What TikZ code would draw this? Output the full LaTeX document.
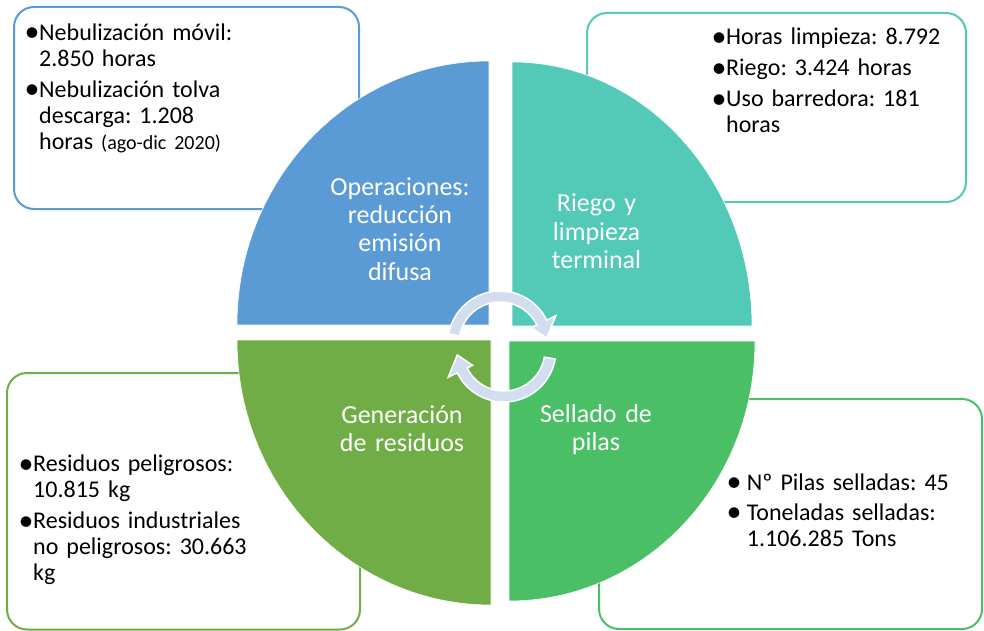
\documentclass[tikz,border=0pt]{standalone}
\usepackage{fontspec}
\setmainfont{Carlito}
\frenchspacing
\definecolor{qblue}{HTML}{5B9BD5}
\definecolor{qteal}{HTML}{53C9B7}
\definecolor{qgreenL}{HTML}{70AD47}
\definecolor{qgreenR}{HTML}{4ABF65}
\definecolor{arrowc}{HTML}{D2DDEF}
\newcommand\mybul{\raisebox{-1.3pt}{\scalebox{1.25}{\textbullet}}}
\newcommand\myitem[1][12pt]{\noindent\hangindent=#1\hangafter=1\makebox[#1][l]{\hspace{-2.5pt}\mybul}\ignorespaces}
\begin{document}
\begin{tikzpicture}[x=1pt,y=1pt,
  infobox/.style={rounded corners=20pt, line width=2pt, fill=white},
  quad/.style={draw=white, line width=0.6pt},
  qtext/.style={text=white, font=\frenchspacing\fontsize{26}{28.4}\selectfont, text width=220pt, align=center, anchor=base, inner sep=0pt},
  btext/.style={text=black, font=\frenchspacing\fontsize{24}{26}\selectfont, text width=300pt, align=left, anchor=base west, inner sep=0pt},
  cyc/.style={fill=arrowc, draw=white, line width=1.5pt, line join=miter}
]
\useasboundingbox (0,0) rectangle (984,-631);
\fill[white] (0,0) rectangle (984,-631);

% info boxes
\draw[infobox, draw=qblue]   (14,-7)   rectangle (359,-209);
\draw[infobox, draw=qteal]   (587,-13) rectangle (966,-202);
\draw[infobox, draw=qgreenL] (7,-373)  rectangle (360,-629.5);
\draw[infobox, draw=qgreenR] (599,-399) rectangle (982,-629);

% quadrants
\fill[qblue, quad] (489,-325) -- (237,-325) arc[start angle=180, end angle=90, x radius=252, y radius=264] -- cycle;
\fill[qteal, quad] (512,-326) -- (512,-62) arc[start angle=90, end angle=0, x radius=240, y radius=264] -- cycle;
\fill[qgreenL, quad] (491,-340) -- (237,-340) arc[start angle=180, end angle=270, x radius=254, y radius=265] -- cycle;
\fill[qgreenR, quad] (509,-341) -- (509,-601) arc[start angle=270, end angle=360, x radius=246, y radius=260] -- cycle;

% cycle arrows
\begin{scope}[shift={(500,-343)}]
\filldraw[cyc] (170:52) arc[start angle=170, end angle=26, radius=52] -- (26:62) -- (6:47) -- (26:35) -- (26:41) arc[start angle=26, end angle=170, radius=41] -- cycle;
\end{scope}
\begin{scope}[shift={(504,-350)}]
\filldraw[cyc] (-10:52) arc[start angle=-10, end angle=-154, radius=52] -- (-154:62) -- (-174:47) -- (-154:35) -- (-154:41) arc[start angle=-154, end angle=-10, radius=41] -- cycle;
\end{scope}

% quadrant labels
\node[qtext] (opl) at (400,-195) {Operaciones:\\reducción\\emisión\\difusa};
\node[qtext] (rgl) at (596.5,-211.7) {Riego y\\limpieza\\terminal};
\node[qtext] (gnl) at (402,-423) {Generación\\de residuos};
\node[qtext] (sll) at (596,-422) {Sellado de\\pilas};

% box texts
\node[btext] (opt) at (27,-40.7) {\setlength{\parskip}{5pt}%
\myitem Nebulización móvil:\newline 2.850 horas\par
\myitem Nebulización tolva\newline descarga: 1.208\newline horas {\fontsize{20}{26}\selectfont(ago-dic 2020)}\par};
\node[btext] (rgt) at (714,-45) {\setlength{\parskip}{5pt}%
\myitem Horas limpieza: 8.792\par
\myitem Riego: 3.424 horas\par
\myitem Uso barredora: 181\newline horas\par};
\node[btext] (gnt) at (21,-471.7) {\setlength{\parskip}{5pt}%
\myitem Residuos peligrosos:\newline 10.815 kg\par
\myitem Residuos industriales\newline no peligrosos: 30.663\newline kg\par};
\node[btext] (slt) at (729,-490) {\setlength{\parskip}{4pt}%
\myitem[17.7pt]Nº Pilas selladas: 45\par
\myitem[17.7pt]Toneladas selladas:\newline 1.106.285 Tons\par};
\end{tikzpicture}
\end{document}
